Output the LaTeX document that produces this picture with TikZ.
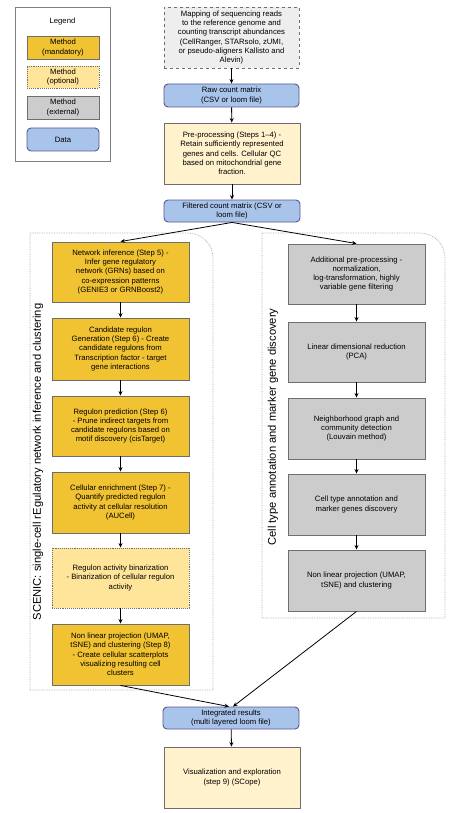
\documentclass[tikz,border=0pt]{standalone}
\usepackage{fontspec}
\setmainfont{Liberation Sans}
\usetikzlibrary{arrows.meta}

\definecolor{mandfill}{HTML}{F1C232}
\definecolor{optfill}{HTML}{FFE599}
\definecolor{extfill}{HTML}{CCCCCC}
\definecolor{datafill}{HTML}{A9C4EB}
\definecolor{prefill}{HTML}{FFF2CC}
\definecolor{mapfill}{HTML}{EEEEEE}
\definecolor{boxline}{HTML}{6E6E6E}

\begin{document}
\begin{tikzpicture}[x=1pt,y=-1pt,
  box/.style={draw=boxline,line width=0.9pt,align=center,inner sep=1pt,
    font=\fontsize{7.7}{9.3}\selectfont},
  mand/.style={box,fill=mandfill},
  opt/.style={box,fill=optfill,densely dotted},
  ext/.style={box,fill=extfill},
  dat/.style={box,fill=datafill,rounded corners=4pt,draw=boxline!80!blue},
  flow/.style={-{Stealth[length=4.5pt,width=4pt]},line width=0.8pt},
  panel/.style={draw=gray!70,densely dotted,line width=0.7pt},
  sidelabel/.style={rotate=90,font=\fontsize{11.2}{13}\selectfont}]
  \useasboundingbox (0,0) rectangle (464,813);

  % 凡例
  \draw[gray,line width=0.9pt] (15,7) rectangle (110,161);
  \node[font=\fontsize{7.7}{9.3}\selectfont] (leg) at (62.5,22) {Legend};
  \node[mand,minimum width=72pt,minimum height=23pt] (legM) at (63,47.5) {Method\\(mandatory)};
  \node[opt,minimum width=72pt,minimum height=22pt] (legO) at (63,77) {Method\\(optional)};
  \node[ext,minimum width=72pt,minimum height=23pt] (legE) at (63,107.5) {Method\\(external)};
  \node[dat,minimum width=72pt,minimum height=23pt] (legD) at (63,139.5) {Data};

  % 前処理の流れ
  \node[box,fill=mapfill,dashed,minimum width=135pt,minimum height=61pt] (map) at (231.5,37.5)
    {Mapping of sequencing reads\\to the reference genome and\\counting transcript abundances\\(CellRanger, STARsolo, zUMI,\\or pseudo-aligners Kallisto and\\Alevin)};
  \node[dat,minimum width=135pt,minimum height=23pt] (raw) at (231.5,95.5) {Raw count matrix\\(CSV or loom file)};
  \node[box,fill=prefill,minimum width=136pt,minimum height=61pt] (pre) at (232,153.5)
    {Pre-processing (Steps 1–4) -\\Retain sufficiently represented\\genes and cells. Cellular QC\\based on mitochondrial gene\\fraction.};
  \node[dat,minimum width=136pt,minimum height=22pt] (filt) at (232,211) {Filtered count matrix (CSV or\\loom file)};
  \draw[flow] (map) -- (raw);
  \draw[flow] (raw) -- (pre);
  \draw[flow] (pre) -- (filt);

  % 枠(左と右)
  \draw[panel] (30,690) -- (30,233) -- (188,233) arc[start angle=270,end angle=360,radius=25] -- (213,690) -- cycle;
  \draw[panel] (262,618) -- (262,233) -- (420,233) arc[start angle=270,end angle=360,radius=25] -- (445,618) -- cycle;
  \node[sidelabel] (scenic) at (38,462) {SCENIC: single-cell rEgulatory network inference and clustering};
  \node[sidelabel] (celltype) at (273,427) {Cell type annotation and marker gene discovery};

  % SCENIC (左)
  \node[mand,minimum width=137pt,minimum height=60pt] (L1) at (120.5,272)
    {Network inference (Step 5) -\\Infer gene regulatory\\network (GRNs) based on\\co-expression patterns\\(GENIE3 or GRNBoost2)};
  \node[mand,minimum width=137pt,minimum height=62pt] (L2) at (120.5,349)
    {Candidate regulon\\Generation (Step 6) - Create\\candidate regulons from\\Transcription factor - target\\gene interactions};
  \node[mand,minimum width=137pt,minimum height=60pt] (L3) at (120.5,426)
    {Regulon prediction (Step 6)\\- Prune indirect targets from\\candidate regulons based on\\motif discovery (cisTarget)};
  \node[mand,minimum width=137pt,minimum height=61pt] (L4) at (120.5,502.5)
    {Cellular enrichment (Step 7) -\\Quantify predicted regulon\\activity at cellular resolution\\(AUCell)};
  \node[opt,minimum width=137pt,minimum height=60pt] (L5) at (120.5,578)
    {Regulon activity binarization\\- Binarization of cellular regulon\\activity};
  \node[mand,minimum width=137pt,minimum height=61pt] (L6) at (120.5,654.5)
    {Non linear projection (UMAP,\\tSNE) and clustering (Step 8)\\- Create cellular scatterplots\\visualizing resulting cell\\clusters};

  % 細胞型アノテーション (右)
  \node[ext,minimum width=137pt,minimum height=60pt] (R1) at (356.5,274)
    {Additional pre-processing -\\normalization,\\log-transformation, highly\\variable gene filtering};
  \node[ext,minimum width=137pt,minimum height=60pt] (R2) at (356.5,352)
    {Linear dimensional reduction\\(PCA)};
  \node[ext,minimum width=137pt,minimum height=61pt] (R3) at (356.5,428.5)
    {Neighborhood graph and\\community detection\\(Louvain method)};
  \node[ext,minimum width=137pt,minimum height=61pt] (R4) at (356.5,504.5)
    {Cell type annotation and\\marker genes discovery};
  \node[ext,minimum width=137pt,minimum height=61pt] (R5) at (356.5,580.5)
    {Non linear projection (UMAP,\\tSNE) and clustering};

  \draw[flow] (filt.south) -- (L1.north);
  \draw[flow] (filt.south) -- (R1.north);
  \foreach \a/\b in {L1/L2,L2/L3,L3/L4,L4/L5,L5/L6,R1/R2,R2/R3,R3/R4,R4/R5} {
    \draw[flow] (\a) -- (\b);
  }

  % 統合と可視化
  \node[dat,minimum width=136pt,minimum height=22pt] (int) at (231,718) {Integrated results\\(multi layered loom file)};
  \node[box,fill=prefill,minimum width=136pt,minimum height=61pt] (vis) at (232,777.5)
    {Visualization and exploration\\(step 9) (SCope)};
  \draw[flow] (L6.south) -- ([xshift=-2pt]int.north);
  \draw[flow] (R5.south) -- ([xshift=2pt]int.north);
  \draw[flow] (int) -- (vis);

\end{tikzpicture}
\end{document}
